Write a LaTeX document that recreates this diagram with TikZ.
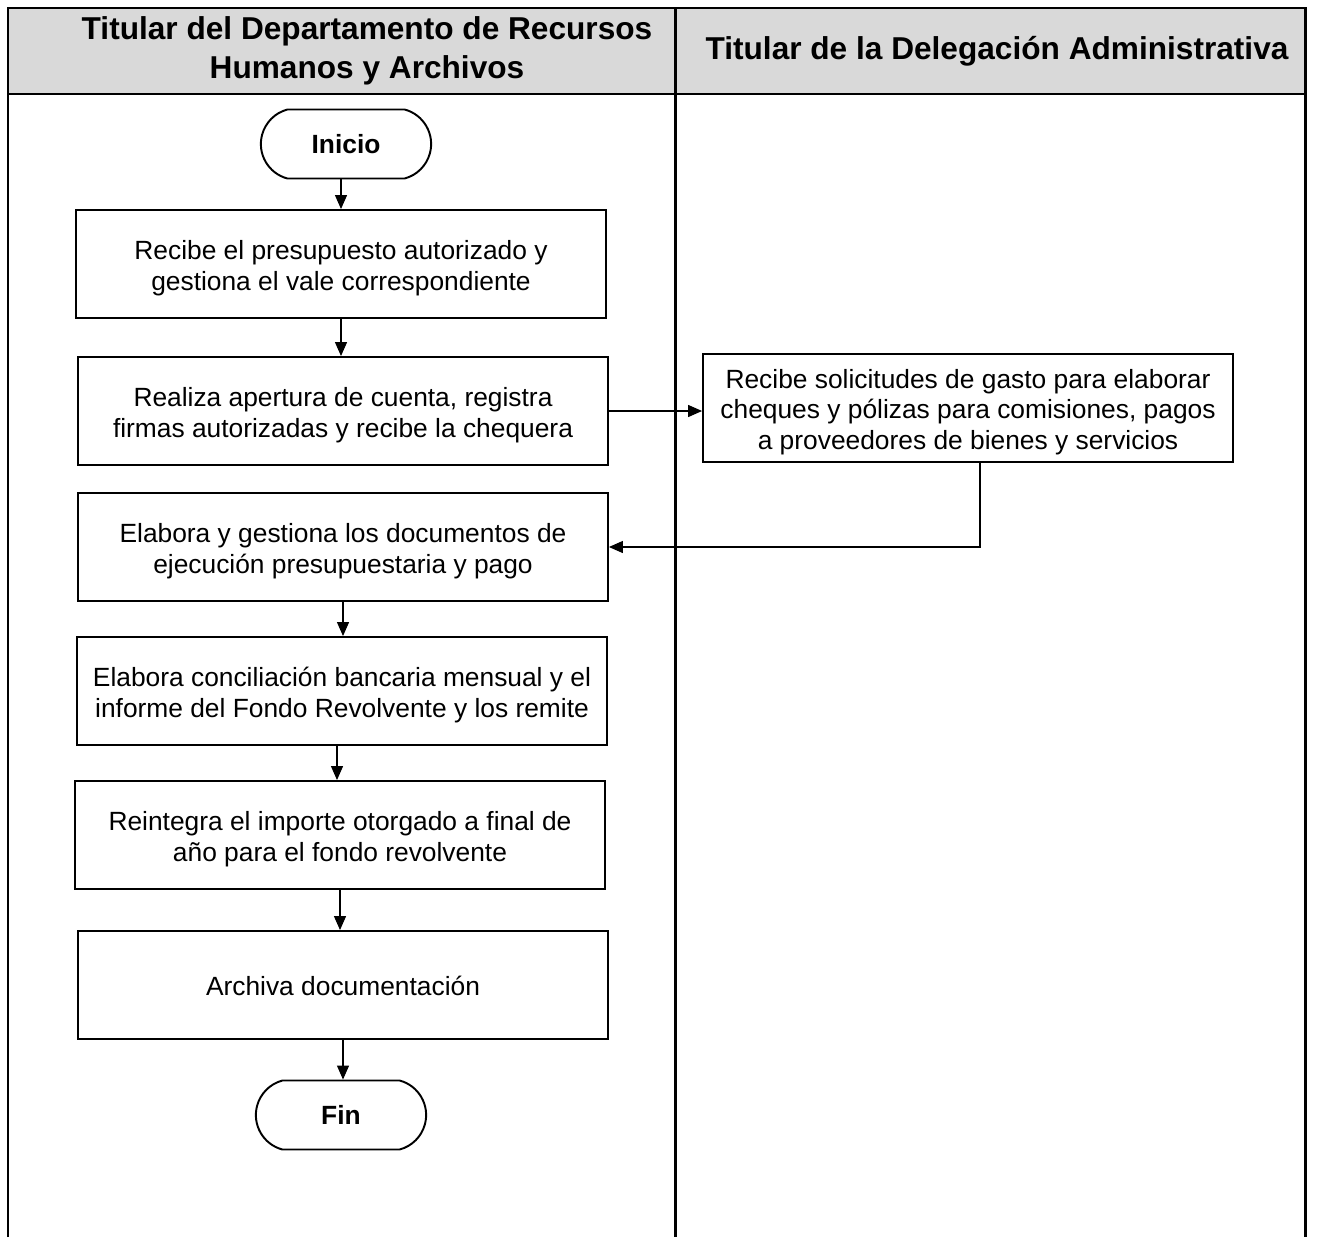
\documentclass[tikz,border=0pt]{standalone}
\usepackage{fontspec}
\setmainfont{Liberation Sans}
\usetikzlibrary{arrows.meta,shapes.misc}
\definecolor{headgray}{HTML}{D9D9D9}

\begin{document}
\begin{tikzpicture}[
    x=0.02cm, y=-0.02cm,
    every node/.style={align=center,font=\fontsize{15}{17.6}\selectfont},
    >={Triangle[length=0.28cm,width=0.24cm]},
    proc/.style={draw,line width=1.1pt,minimum width=10.6cm,minimum height=2.16cm,inner sep=0pt,
        text width=10.4cm,align=flush center,
        execute at begin node={\rule{0pt}{16.3pt}},
        execute at end node={\rule[-3.8pt]{0pt}{0pt}}},
    term/.style={draw,rounded rectangle,rounded rectangle arc length=150,line width=1.1pt,
        minimum width=3.64cm,minimum height=1.38cm,font=\bfseries\fontsize{15}{17.6}\selectfont},
    head/.style={font=\bfseries\fontsize{18}{21.9}\selectfont},
    lane/.style={line width=1.7pt},
    flow/.style={->,line width=0.7pt}
]
\useasboundingbox (0,0) rectangle (1317,1237);

% swimlanes
\fill[headgray] (8,8) rectangle (1305,94);
\draw[lane] (8,1237) -- (8,8) -- (1305,8) -- (1305,1237);
\draw[lane] (8,94) -- (1305,94);
\draw[lane] (675,8) -- (675,1237);
\node[head] (h1) at (367,51) {Titular del Departamento de Recursos\\Humanos y Archivos};
\node[head] (h2) at (997,51) {Titular de la Delegación Administrativa};

% steps
\node[term] (inicio) at (346,144) {Inicio};
\node[proc] (b1) at (341,264) {Recibe el presupuesto autorizado y\\gestiona el vale correspondiente};
\node[proc] (b2) at (343,411) {Realiza apertura de cuenta, registra\\firmas autorizadas y recibe la chequera};
\node[proc] (r1) at (968,408) {Recibe solicitudes de gasto para elaborar\\cheques y pólizas para comisiones, pagos\\a proveedores de bienes y servicios};
\node[proc] (b3) at (343,547) {Elabora y gestiona los documentos de\\ejecución presupuestaria y pago};
\node[proc] (b4) at (342,691) {Elabora conciliación bancaria mensual y el\\informe del Fondo Revolvente y los remite};
\node[proc] (b5) at (340,835) {Reintegra el importe otorgado a final de\\año para el fondo revolvente};
\node[proc] (b6) at (343,985) {Archiva documentación};
\node[term] (fin) at (341,1115) {Fin};

% connectors
\draw[flow] (b1.north |- inicio.south) -- (b1.north);
\draw[flow] (b1.south) -- (b1.south |- b2.north);
\draw[flow] (b2.east) -- (b2.east -| r1.west);
\draw[flow] ([xshift=12*0.02cm]r1.south) |- (b3.east);
\draw[flow] (b3.south) -- (b3.south |- b4.north);
\draw[flow] ([xshift=-5*0.02cm]b4.south) -- ([xshift=-5*0.02cm]b4.south |- b5.north);
\draw[flow] (b5.south) -- (b5.south |- b6.north);
\draw[flow] (b6.south) -- (b6.south |- fin.north);
\end{tikzpicture}
\end{document}
